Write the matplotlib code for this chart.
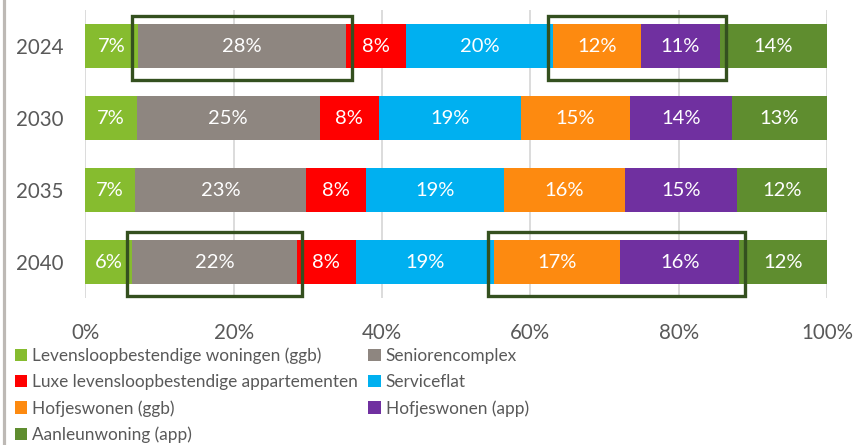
import matplotlib
matplotlib.use("Agg")
import matplotlib.pyplot as plt
from matplotlib.patches import Patch, Rectangle
from matplotlib.lines import Line2D
from matplotlib.ticker import FuncFormatter
import numpy as np

plt.rcParams["font.family"] = ["Lato", "DejaVu Sans"]

years = ["2024", "2030", "2035", "2040"]

# share per woonvorm (% of total), one value per year
levensloop_ggb = [7.1, 6.9, 6.7, 6.3]
seniorencomplex = [28.1, 24.7, 23.1, 22.2]
luxe_app = [8.0, 8.0, 8.0, 8.0]
serviceflat = [19.9, 19.1, 18.7, 18.6]
hofjes_ggb = [11.8, 14.8, 16.2, 17.0]
hofjes_app = [10.7, 13.7, 15.2, 16.1]
aanleun_app = [14.4, 12.8, 12.1, 11.8]

labels = [
    "Levensloopbestendige woningen (ggb)",
    "Seniorencomplex",
    "Luxe levensloopbestendige appartementen",
    "Serviceflat",
    "Hofjeswonen (ggb)",
    "Hofjeswonen (app)",
    "Aanleunwoning (app)",
]
colors = ["#86BC2F", "#8E8680", "#FF0000", "#00B0F0", "#FD8A10", "#7030A0", "#5F8D2F"]

# (year index, segments to outline)
highlights = [(0, [1]), (0, [4, 5]), (3, [1]), (3, [4, 5])]

series = [levensloop_ggb, seniorencomplex, luxe_app, serviceflat,
          hofjes_ggb, hofjes_app, aanleun_app]

fig = plt.figure(figsize=(8.56, 4.45), dpi=100)
ax = fig.add_axes([0.0997, 0.3303, 0.8664, 0.6472])

y = np.arange(len(years))
left = np.zeros(len(years))
starts = []
for vals, lab, col in zip(series, labels, colors):
    vals = np.array(vals)
    starts.append(left.copy())
    bars = ax.barh(y, vals, left=left, height=0.61, color=col, label=lab, zorder=2)
    ax.bar_label(bars, labels=[f"{v:.0f}%" for v in vals], label_type="center",
                 color="white", fontsize=14.5)
    left = left + vals

# outline boxes around the highlighted segments
pad = 0.75
for yi, segs in highlights:
    x0 = starts[segs[0]][yi] - pad
    x1 = starts[segs[-1]][yi] + series[segs[-1]][yi] + pad
    ax.add_patch(Rectangle((x0, yi - 0.41), x1 - x0, 0.88, fill=False,
                           edgecolor="#34501F", lw=2.4, zorder=5, clip_on=False))

ax.set_xlim(0, 100)
ax.set_ylim(3.5, -0.5)
ax.set_xticks(np.arange(0, 101, 20))
ax.xaxis.set_major_formatter(FuncFormatter(lambda v, p: f"{v:.0f}%"))
ax.set_yticks(y)
ax.set_yticklabels(years)
ax.grid(axis="x", color="#D9D9D9", lw=1.3, zorder=0)
ax.set_axisbelow(True)
for s in ax.spines.values():
    s.set_visible(False)
ax.tick_params(axis="both", length=0, labelsize=14.8, colors="#595959")
ax.tick_params(axis="x", pad=18)
ax.tick_params(axis="y", pad=16)

# legend: row-wise order in two columns
h = [Patch(facecolor=c) for c in colors]
order = [0, 2, 4, 6, 1, 3, 5]
fig.legend([h[i] for i in order], [labels[i] for i in order], ncol=2,
           loc="upper left", bbox_to_anchor=(0.017, 0.219), frameon=False,
           fontsize=12.4, handlelength=0.72, handleheight=0.72, handletextpad=0.3,
           labelspacing=0.58, columnspacing=0.6, borderpad=0, borderaxespad=0,
           labelcolor="#595959")

fig.add_artist(Line2D([0.0041, 0.0041], [0, 1], color="#BDB9B5", lw=2.3))

fig.savefig("out.png", dpi=100)
